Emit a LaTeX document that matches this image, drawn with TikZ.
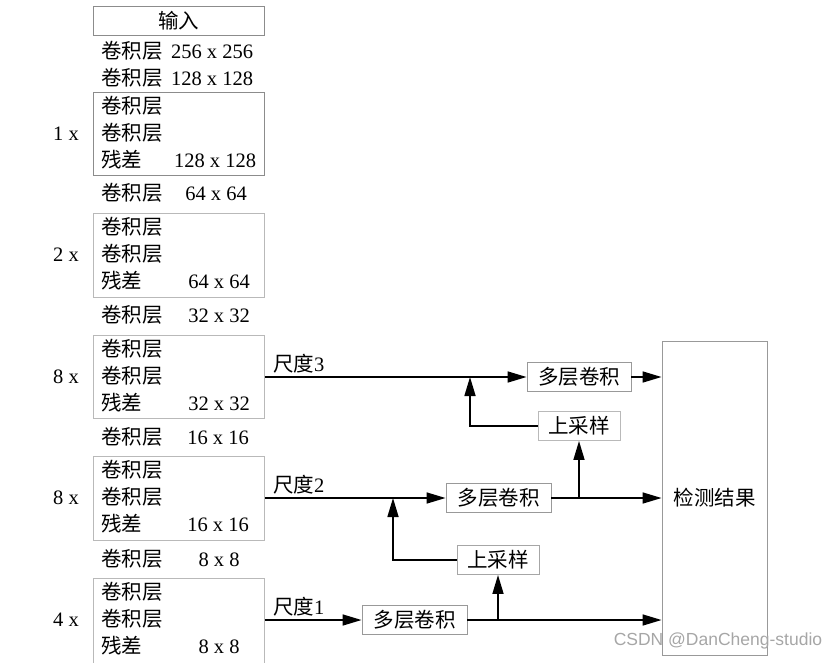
\documentclass[tikz,border=0pt]{standalone}
\usepackage{fontspec}
\setmainfont{Liberation Serif}
\newfontfamily\cjk{Noto Sans CJK SC}
\newfontfamily\wmfont{Liberation Sans}
\usetikzlibrary{arrows.meta}
\tikzset{
  txt/.style={inner sep=0pt, font=\fontsize{20.5}{20.5}\selectfont},
  lbl/.style={txt, anchor=base west},
  num/.style={txt, anchor=base},
  blk/.style={draw=#1, line width=0.9pt, minimum width=171, inner sep=0pt},
  blk/.default=gray!55,
  proc/.style={draw=#1, line width=0.9pt, inner sep=0pt, minimum height=29, font=\fontsize{20.5}{20.5}\selectfont\cjk},
  proc/.default=gray!80,
  arr/.style={line width=1.6pt, -{Triangle[length=19pt,width=11pt]}},
}
\newcommand\resblk[7]{%
  \node[blk=#7, minimum height=#3, anchor=north west] (#1) at (93,#2) {};
  \node[lbl] (#1a) at (101,#2+21) {\cjk 卷积层};
  \node[lbl] (#1b) at (101,#2+48) {\cjk 卷积层};
  \node[lbl] (#1c) at (101,#2+75.5) {\cjk 残差};
  \node[num] (#1s) at (#6,#2+75.5) {#5};
  \node[num] (#1r) at (66,#2+48) {#4};
}
\newcommand\convline[4]{%
  \node[lbl] (#1a) at (101,#2) {\cjk 卷积层};
  \node[num] (#1s) at (#4,#2) {#3};
}
\begin{document}
\begin{tikzpicture}[x=1pt,y=-1pt]
\useasboundingbox (0,0) rectangle (840,662);
\clip (0,0) rectangle (840,662);
% left column
\node[blk=gray!90, minimum height=29, anchor=north west] (in) at (93,6) {};
\node[num] (inl) at (178.5,28) {\cjk 输入};
\convline{c0}{58}{256 x 256}{212}
\convline{c1}{85}{128 x 128}{212}
\resblk{b1}{92}{83}{1 x}{128 x 128}{215}{gray!90}
\convline{c2}{200.5}{64 x 64}{216}
\resblk{b2}{213}{84}{2 x}{64 x 64}{219}{gray!55}
\convline{c3}{322.5}{32 x 32}{219}
\resblk{b3}{335}{83}{8 x}{32 x 32}{219}{gray!55}
\convline{c4}{444.5}{16 x 16}{218}
\resblk{b4}{456}{84}{8 x}{16 x 16}{218}{gray!55}
\convline{c5}{566}{8 x 8}{219}
\resblk{b5}{578}{95}{4 x}{8 x 8}{219}{gray!55}
% right part
\node[proc, minimum width=104] (mc3) at (579,377) {多层卷积};
\node[proc=gray!55, minimum width=82] (up3) at (579,426) {上采样};
\node[proc, minimum width=105] (mc2) at (498.5,498) {多层卷积};
\node[proc=gray!70, minimum width=82] (up2) at (498,560) {上采样};
\node[proc, minimum width=105] (mc1) at (414.5,620) {多层卷积};
\node[proc, minimum width=105, minimum height=314] (res) at (714.5,498) {检测结果};
\coordinate (j3) at (470,377);
\coordinate (j2) at (393,498);
\coordinate (k2) at (579,498);
\coordinate (k1) at (498,620);
% scale labels
\node[lbl] (s3) at (273,371) {{\cjk 尺度}3};
\node[lbl] (s2) at (273,492) {{\cjk 尺度}2};
\node[lbl] (s1) at (273,614) {{\cjk 尺度}1};
% scale 3
\draw[arr] (b3.east |- mc3.west) -- (mc3.west);
\draw[arr] (up3.west) -| (j3);
\draw[arr] (mc3.east) -- (res.west |- mc3.east);
% scale 2
\draw[arr] (b4.east |- mc2.west) -- (mc2.west);
\draw[arr] (up2.west) -| (j2);
\draw[arr] (mc2.east) -- (res.west |- mc2.east);
\draw[arr] (k2) -- (up3.south);
% scale 1
\draw[arr] (b5.east |- mc1.west) -- (mc1.west);
\draw[arr] (mc1.east) -- (res.west |- mc1.east);
\draw[arr] (k1) -- (up2.south);
% watermark
\node[text=gray!70, font=\fontsize{17.5}{17.5}\selectfont\wmfont, inner sep=0pt] (wm) at (718,641) {CSDN @DanCheng-studio};
\end{tikzpicture}
\end{document}
